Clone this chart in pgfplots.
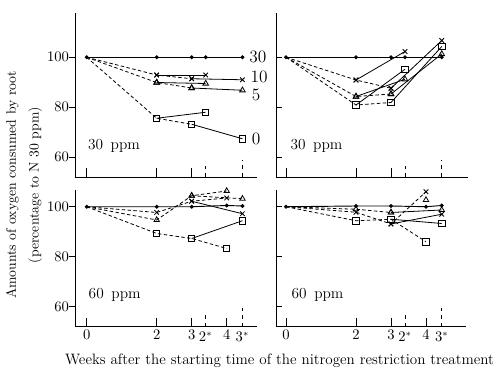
\documentclass[border=0pt]{standalone}
\usepackage{fontspec}
\usepackage{pgfplots}
\pgfplotsset{compat=1.18}
\pgfplotsset{
  panel/.style={scale only axis, axis x line*=bottom, axis y line*=left,
    axis line style={line width=0.6pt,-}, tick style={black,line width=0.6pt},
    xtick={0,2,3,4}, major tick length=4.5pt,
    xtick style={draw=none},
    ytick={60,80,100},
    extra x ticks={3.4,4.45}, extra x tick labels={$2^{*}$,$3^{*}$},
    extra x tick style={major tick length=0pt, xticklabel style={yshift=-1.5pt}},
    ticklabel style={font=\fontsize{10.5}{12}\selectfont},
    xticklabel style={yshift=1pt},
    yticklabel style={xshift=3.5pt},
    clip=false},
  sd/.style={black, line width=0.6pt, dash pattern=on 2.6pt off 1.8pt, mark size=2.4pt, mark options={solid, fill=white}},
  sl/.style={black, line width=0.6pt, solid, mark size=2.4pt, mark options={solid, fill=white}},
  ct/.style={black, line width=0.7pt, solid, mark=*, mark size=1.1pt},
}
\newcommand{\xticksthree}[1]{%
  \draw[line width=0.6pt] (axis cs:0,#1) -- ++(0pt,6.5pt);
  \draw[line width=0.6pt] (axis cs:2,#1) -- ++(0pt,6.5pt);
  \draw[line width=0.6pt] (axis cs:3,#1) -- ++(0pt,6.5pt);}
\newcommand{\xticksfour}[1]{%
  \xticksthree{#1}
  \draw[line width=0.6pt] (axis cs:4,#1) -- ++(0pt,6.5pt);}
\begin{document}
\begin{tikzpicture}[x=1pt,y=1pt]
\useasboundingbox (0,0) rectangle (375,276.75);
% ---------------- top left
\begin{axis}[panel, at={(56.25pt,144pt)}, anchor=south west, width=136.5pt, height=123pt,
  xmin=-0.334, xmax=4.866, ymin=52.1, ymax=117.7, ytick align=outside, xticklabels={}, extra x tick labels={}]
\addplot[ct] coordinates {(0,100)(2,100)(3,100)(3.4,100)(4.45,100)};
\addplot[sd, mark=x, mark indices={2,3}] coordinates {(0,100)(2,92.9)(3,91.4)};
\addplot[sl, mark=x] coordinates {(2,92.9)(3.4,92.9)};
\addplot[sl, mark=x] coordinates {(3,91.4)(4.45,91.0)};
\addplot[sd, mark=triangle, mark indices={2,3}] coordinates {(0,100)(2,89.9)(3,87.7)};
\addplot[sl, mark=triangle] coordinates {(2,89.9)(3.4,89.5)};
\addplot[sl, mark=triangle] coordinates {(3,87.7)(4.45,86.8)};
\addplot[sd, mark=square, mark indices={2,3}] coordinates {(0,100)(2,75.6)(3,73.2)};
\addplot[sl, mark=square] coordinates {(2,75.6)(3.4,78.0)};
\addplot[sl, mark=square] coordinates {(3,73.2)(4.45,67.4)};
\xticksthree{52.1}
\draw[dashed, line width=0.5pt] (axis cs:3.4,52.1) -- ++(0pt,8pt);
\draw[dashed, line width=0.5pt] (axis cs:4.45,52.1) -- ++(0pt,13pt);
\node[font=\fontsize{13}{14}\selectfont] at (axis cs:4.89,100) {30};
\node[font=\fontsize{13}{14}\selectfont] at (axis cs:4.93,92.3) {10};
\node[font=\fontsize{13}{14}\selectfont] at (axis cs:4.84,85.1) {5};
\node[font=\fontsize{13}{14}\selectfont] at (axis cs:4.84,67.3) {0};
\node[font=\fontsize{11.5}{13}\selectfont] at (axis cs:0.78,64.5) {30\enspace ppm};
\end{axis}
% ---------------- top right
\begin{axis}[panel, at={(207pt,144pt)}, anchor=south west, width=144pt, height=123pt,
  xmin=-0.286, xmax=5.2, ymin=52.1, ymax=117.7, ytick align=inside, yticklabels={}, xticklabels={}, extra x tick labels={}]
\addplot[ct] coordinates {(0,100)(2,100)(3,100)(3.4,100)(4.45,100)};
\addplot[sd, mark=x, mark indices={2,3}] coordinates {(0,100)(2,90.9)(3,87.6)};
\addplot[sl, mark=x] coordinates {(2,90.9)(3.4,102.3)};
\addplot[sl, mark=x] coordinates {(3,87.6)(4.45,106.7)};
\addplot[sd, mark=triangle, mark indices={2,3}] coordinates {(0,100)(2,84.3)(3,85.3)};
\addplot[sl, mark=triangle] coordinates {(2,84.3)(3.4,91.2)};
\addplot[sl, mark=triangle] coordinates {(3,85.3)(4.45,101.3)};
\addplot[sd, mark=square, mark indices={2,3}] coordinates {(0,100)(2,80.9)(3,81.9)};
\addplot[sl, mark=square] coordinates {(2,80.9)(3.4,95.2)};
\addplot[sl, mark=square] coordinates {(3,81.9)(4.45,104.3)};
\xticksthree{52.1}
\draw[dashed, line width=0.5pt] (axis cs:3.4,52.1) -- ++(0pt,8pt);
\draw[dashed, line width=0.5pt] (axis cs:4.45,52.1) -- ++(0pt,13pt);
\node[font=\fontsize{11.5}{13}\selectfont] at (axis cs:0.87,64.5) {30\enspace ppm};
\end{axis}
% ---------------- bottom left
\begin{axis}[panel, at={(56.25pt,31.7pt)}, anchor=south west, width=136.5pt, height=102.56pt,
  xmin=-0.334, xmax=4.866, ymin=52, ymax=106.7, ytick align=outside]
\addplot[ct] coordinates {(0,100)(2,100)(3,100)(4,100.5)(4.45,100.3)};
\addplot[sd, mark=x, mark indices={2,3,4}] coordinates {(0,100)(2,97.7)(3,102.2)(4,103.5)};
\addplot[sl, mark=x] coordinates {(3,102.2)(4.45,97.2)};
\addplot[sd, mark=triangle, mark indices={2,3,4}] coordinates {(0,100)(2,94.7)(3,104.4)(4,106.3)};
\addplot[sd, mark=triangle] coordinates {(3,104.4)(4.45,103.2)};
\addplot[sd, mark=square, mark indices={2,3,4}] coordinates {(0,100)(2,89.3)(3,87.3)(4,83.3)};
\addplot[sl, mark=square] coordinates {(3,87.3)(4.45,94.4)};
\xticksfour{52}
\draw[dashed, line width=0.5pt] (axis cs:3.4,52) -- ++(0pt,9pt);
\draw[dashed, line width=0.5pt] (axis cs:4.45,52) -- ++(0pt,14pt);
\node[font=\fontsize{11.5}{13}\selectfont] at (axis cs:0.8,64.7) {60\enspace ppm};
\end{axis}
% ---------------- bottom right
\begin{axis}[panel, at={(207pt,31.7pt)}, anchor=south west, width=142.4pt, height=102.56pt,
  xmin=-0.286, xmax=5.14, ymin=52, ymax=106.7, ytick align=inside, yticklabels={}]
\addplot[ct] coordinates {(0,100)(2,100.3)(3,100.3)(4,100)(4.45,100.5)};
\addplot[sd, mark=x, mark indices={2,3,4}] coordinates {(0,100)(2,97.8)(3,93.1)(4,106)};
\addplot[sl, mark=x] coordinates {(3,93.1)(4.45,97)};
\addplot[sd, mark=triangle, mark indices={2,3}] coordinates {(0,100)(2,99)(3,97.7)};
\addplot[sl, mark=triangle] coordinates {(3,97.7)(4.45,98.7)};
\addplot[sl, only marks, mark=triangle] coordinates {(4,102.7)};
\addplot[sd, mark=square, mark indices={2,3,4}] coordinates {(0,100)(2,94.4)(3,95)(4,86)};
\addplot[sl, mark=square] coordinates {(3,95)(4.45,93.3)};
\xticksfour{52}
\draw[dashed, line width=0.5pt] (axis cs:3.4,52) -- ++(0pt,9pt);
\draw[dashed, line width=0.5pt] (axis cs:4.45,52) -- ++(0pt,14pt);
\node[font=\fontsize{11.5}{13}\selectfont] at (axis cs:0.9,64.7) {60\enspace ppm};
\end{axis}
% ---------------- axis titles
\node[rotate=90, align=center, font=\fontsize{10.3}{17}\selectfont] at (18pt,138pt)
  {Amounts of oxygen consumed by root\\(percentage to N 30 ppm)};
\node[font=\fontsize{11.3}{12}\selectfont] at (209.6pt,6pt)
  {Weeks after the starting time of the nitrogen restriction treatment};
\end{tikzpicture}
\end{document}
